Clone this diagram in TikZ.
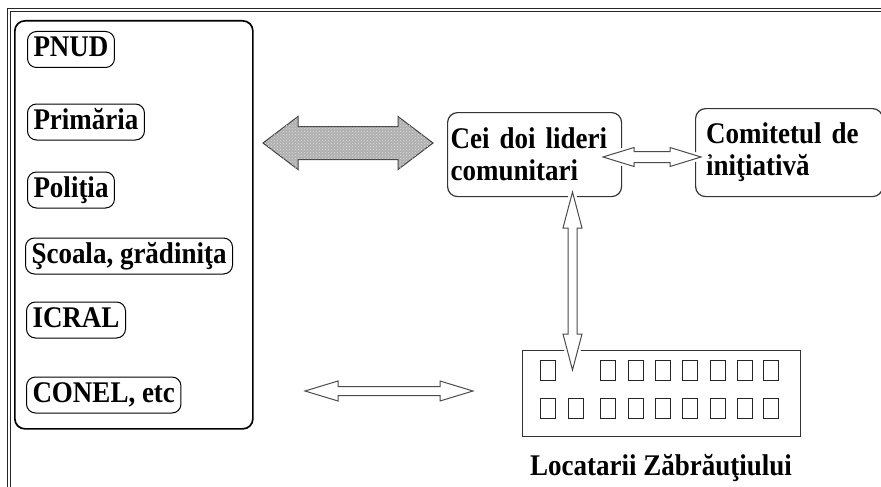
\documentclass[tikz,border=0pt]{standalone}
\usepackage{fontspec}
\setmainfont{Liberation Serif}[FakeStretch=0.9]
\usetikzlibrary{calc,patterns}
% horizontal hollow double arrow: style, from, to, head length, head half width, shaft half width
\newcommand\hdblarrow[6]{%
  \draw[#1] let \p1=(#2), \p2=(#3) in
    (\x1,\y1) -- (\x1+#4,\y1+#5) -- (\x1+#4,\y1+#6) -- (\x2-#4,\y2+#6) -- (\x2-#4,\y2+#5)
    -- (\x2,\y2) -- (\x2-#4,\y2-#5) -- (\x2-#4,\y2-#6) -- (\x1+#4,\y1-#6) -- (\x1+#4,\y1-#5) -- cycle;}
% vertical hollow double arrow: style, top, bottom, head length, head half width, shaft half width
\newcommand\vdblarrow[6]{%
  \draw[#1] let \p1=(#2), \p2=(#3) in
    (\x1,\y1) -- (\x1+#5,\y1-#4) -- (\x1+#6,\y1-#4) -- (\x2+#6,\y2+#4) -- (\x2+#5,\y2+#4)
    -- (\x2,\y2) -- (\x2-#5,\y2+#4) -- (\x2-#6,\y2+#4) -- (\x1-#6,\y1-#4) -- (\x1-#5,\y1-#4) -- cycle;}
\begin{document}
\begin{tikzpicture}[x=1pt,y=-1pt,
  txt/.style={font=\fontsize{30}{32}\selectfont\bfseries},
  pill/.style={txt,draw,rounded corners=9pt,line width=1pt,inner xsep=6pt,inner ysep=4pt,
    text height=21pt,text depth=7pt,anchor=west},
  grpbox/.style={draw,rounded corners=10pt,line width=1.7pt,anchor=north west},
  actor/.style={txt,draw=black!80,rounded corners=10pt,line width=1.2pt,anchor=north west,
    align=left},
  hollow/.style={draw=black!70,fill=white,line width=1pt,line join=miter,
    preaction={draw=white,line width=6pt}},
  granite/.style={draw=black!75,fill=gray!62,line width=1pt,
    postaction={pattern=crosshatch dots,pattern color=gray!28}},
  win/.style={draw=black!85,line width=1pt}]
\useasboundingbox (0,0) rectangle (881,487);
\fill[white] (0,0) rectangle (881,487);
% outer frame (only top and left edges visible)
\draw[double=white,double distance=1.2pt,line width=1pt,draw=black!85] (881,10) -- (9,10) -- (9,487);
% group of institutions
\node[grpbox,minimum width=238pt,minimum height=408pt] (grp) at (14,20) {};
\node[pill] (pnud) at (27,49.5) {PNUD};
\node[pill] (prim) at (27,122) {Primăria};
\node[pill] (pol)  at (27,190) {Poliţia};
\node[pill] (scoala) at (25,256) {Şcoala, grădiniţa};
\node[pill] (icral) at (26,320) {ICRAL};
\node[pill] (conel) at (26,395) {CONEL, etc};
% actors
\node[actor,minimum width=174pt,minimum height=84pt,text width=168pt,inner xsep=3pt] (lid) at (447,112)
  {Cei doi lideri\\comunitari};
\node[actor,minimum width=182pt,minimum height=88pt,text width=166pt,inner xsep=10.5pt] (com) at (695,108)
  {Comitetul de\\iniţiativă};
% building
\node[draw=black!80,line width=1pt,minimum width=278pt,minimum height=86pt,anchor=north west] (bldg) at (522,350) {};
\foreach \wx in {540,600,628,655,682,710,737,763}
  \draw[win] (\wx,360) rectangle ++(15,20);
\foreach \wx in {540,568,600,628,655,682,710,737,763}
  \draw[win] (\wx,398) rectangle ++(15,20);
\node[txt,anchor=base] (loc) at (661,475) {Locatarii Zăbrăuţiului};
% arrow end points
\coordinate (g1) at (263,143);
\coordinate (g2) at (433,143);
\coordinate (h1) at (603,157);
\coordinate (h2) at (701,157);
\coordinate (v1) at (572.5,192);
\coordinate (v2) at (572.5,370);
\coordinate (b1) at (305,391);
\coordinate (b2) at (473,391);
% arrows
\hdblarrow{granite}{g1}{g2}{35pt}{26.5pt}{16.5pt}
\hdblarrow{hollow,preaction={draw=white,line width=4pt}}{h1}{h2}{31pt}{9.5pt}{5.5pt}
\vdblarrow{hollow}{v1}{v2}{36pt}{9.5pt}{4.5pt}
\hdblarrow{draw=black!70,fill=white,line width=1pt}{b1}{b2}{33pt}{10pt}{4.5pt}
\end{tikzpicture}
\end{document}
